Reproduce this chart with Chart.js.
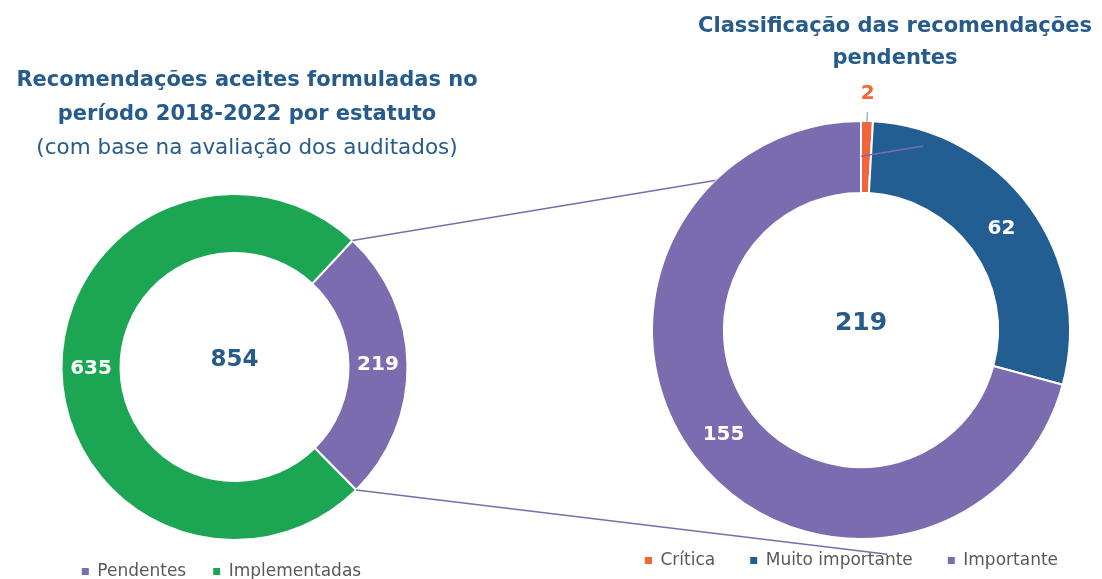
<!DOCTYPE html>
<html>
<head>
<meta charset="utf-8">
<script src="https://cdn.jsdelivr.net/npm/chart.js@4.4.1/dist/chart.umd.min.js"></script>
<style>
html, body { margin: 0; padding: 0; background: #fff; overflow: hidden; }
#wrap { position: relative; width: 1102px; height: 579px; overflow: hidden; }
canvas { position: absolute; left: 0; top: 0; }
#right { z-index: 2; }
</style>
</head>
<body>
<div id="wrap">
  <canvas id="left" width="1102" height="590"></canvas>
  <canvas id="right" width="1200" height="579"></canvas>
</div>
<script>
const leftLabels = ['Pendentes', 'Implementadas'];
const leftValues = [219, 635];
const rightLabels = ['Crítica', 'Muito importante', 'Importante'];
const rightValues = [2, 62, 155];

const leftColors = ['#7b6cb0', '#1ca653'];
const rightColors = ['#f26538', '#235e92', '#7b6cb0'];

const leftTitle = ['Recomendações aceites formuladas no', 'período 2018-2022 por estatuto'];
const leftSubtitle = '(com base na avaliação dos auditados)';
const rightTitle = ['Classificação das recomendações', 'pendentes'];

const titleBlue = '#265b8b';
Chart.defaults.font.family = '"DejaVu Sans", sans-serif';
Chart.defaults.color = '#595959';

// legend squares without the white slice border
const squareLabels = chart =>
  Chart.overrides.doughnut.plugins.legend.labels.generateLabels(chart)
    .map(l => Object.assign(l, { lineWidth: 0 }));

// move title / legend blocks sideways after layout
const nudge = {
  id: 'nudge',
  afterLayout(chart, args, opts) {
    chart.boxes.forEach(b => {
      const dx = opts[b.position] || 0;
      b.left += dx;
      b.right += dx;
    });
  }
};

// values on the ring, total in the middle
const ringText = {
  id: 'ringText',
  afterDatasetsDraw(chart, args, opts) {
    const ctx = chart.ctx;
    const meta = chart.getDatasetMeta(0);
    const vals = chart.data.datasets[0].data;
    const outside = opts.outside || [];
    ctx.save();
    ctx.textAlign = 'center';
    ctx.textBaseline = 'middle';
    ctx.font = 'bold 20px "DejaVu Sans"';
    meta.data.forEach((arc, i) => {
      if (outside.includes(i)) {
        const a = (arc.startAngle + arc.endAngle) / 2;
        const R = arc.outerRadius;
        ctx.strokeStyle = '#8c8c8c';
        ctx.lineWidth = 1;
        ctx.beginPath();
        ctx.moveTo(arc.x + (R - 3) * Math.cos(a), arc.y + (R - 3) * Math.sin(a));
        ctx.lineTo(arc.x + (R + 9) * Math.cos(a), arc.y + (R + 9) * Math.sin(a));
        ctx.stroke();
        ctx.fillStyle = arc.options.backgroundColor;
        ctx.fillText(vals[i], arc.x + (R + 27) * Math.cos(a), arc.y + (R + 27) * Math.sin(a));
      } else {
        const p = arc.tooltipPosition();
        ctx.fillStyle = '#fff';
        ctx.fillText(vals[i], p.x, p.y);
      }
    });
    const total = vals.reduce((s, v) => s + v, 0);
    const c = meta.data[0];
    ctx.font = 'bold ' + opts.totalSize + 'px "DejaVu Sans"';
    ctx.fillStyle = titleBlue;
    ctx.fillText(total, c.x, c.y - 7);
    ctx.restore();
  }
};

const leftChart = new Chart(document.getElementById('left'), {
  type: 'doughnut',
  data: {
    labels: leftLabels,
    datasets: [{
      data: leftValues,
      backgroundColor: leftColors,
      borderColor: '#fff',
      borderWidth: 2,
      hoverOffset: 0
    }]
  },
  options: {
    responsive: false,
    animation: false,
    events: [],
    rotation: 43,
    radius: 173,
    cutout: '65.9%',
    layout: { padding: { left: 0, right: 633, top: 0, bottom: 0 } },
    plugins: {
      title: {
        display: true, text: leftTitle, color: titleBlue,
        font: { size: 21, weight: 'bold', lineHeight: 1.6 },
        padding: { top: 64, bottom: 0 }
      },
      subtitle: {
        display: true, text: leftSubtitle, color: titleBlue,
        font: { size: 21.5, weight: 'normal', lineHeight: 1.5628 },
        padding: { top: 0, bottom: 33.2 }
      },
      legend: {
        position: 'bottom',
        labels: {
          usePointStyle: true, pointStyle: 'rect', boxWidth: 7, boxHeight: 7,
          padding: 27, font: { size: 17 }, color: '#595959',
          generateLabels: squareLabels
        }
      },
      tooltip: { enabled: false },
      nudge: { top: 12.5, bottom: -13 },
      ringText: { totalSize: 23 }
    }
  },
  plugins: [nudge, ringText]
});

// lines linking the "Pendentes" slice to the right ring
const connectors = {
  id: 'connectors',
  afterDatasetsDraw(chart) {
    const ctx = chart.ctx;
    const src = leftChart.getDatasetMeta(0).data[0];
    const arcs = chart.getDatasetMeta(0).data;
    const hide = arcs[2];
    const R = hide.outerRadius;
    const targets = [
      { from: src.startAngle, angle: -71.3, k: 0.93 },
      { from: src.endAngle, angle: 83.3, k: 1.08 }
    ];
    ctx.save();
    ctx.beginPath();
    ctx.rect(0, 0, chart.width, chart.height);
    ctx.moveTo(hide.x + R * Math.cos(hide.startAngle), hide.y + R * Math.sin(hide.startAngle));
    ctx.arc(hide.x, hide.y, R, hide.startAngle, hide.endAngle);
    ctx.arc(hide.x, hide.y, hide.innerRadius, hide.endAngle, hide.startAngle, true);
    ctx.closePath();
    ctx.clip('evenodd');
    ctx.strokeStyle = '#7b6cb0';
    ctx.lineWidth = 1.5;
    targets.forEach(t => {
      const a = t.angle * Math.PI / 180;
      ctx.beginPath();
      ctx.moveTo(src.x + src.outerRadius * Math.cos(t.from), src.y + src.outerRadius * Math.sin(t.from));
      ctx.lineTo(hide.x + R * t.k * Math.cos(a), hide.y + R * t.k * Math.sin(a));
      ctx.stroke();
    });
    ctx.restore();
  }
};

const rightChart = new Chart(document.getElementById('right'), {
  type: 'doughnut',
  data: {
    labels: rightLabels,
    datasets: [{
      data: rightValues,
      backgroundColor: rightColors,
      borderColor: '#fff',
      borderWidth: 2,
      hoverOffset: 0
    }]
  },
  options: {
    responsive: false,
    animation: false,
    events: [],
    rotation: 0,
    radius: 209,
    cutout: '65.6%',
    layout: { padding: { left: 522, right: 0, top: 0, bottom: 0 } },
    plugins: {
      title: {
        display: true, text: rightTitle, color: titleBlue,
        font: { size: 21, weight: 'bold', lineHeight: 1.5 },
        padding: { top: 11.25, bottom: 68.75 }
      },
      legend: {
        position: 'bottom',
        labels: {
          usePointStyle: true, pointStyle: 'rect', boxWidth: 7, boxHeight: 7,
          padding: 35, font: { size: 17 }, color: '#595959',
          generateLabels: squareLabels
        }
      },
      tooltip: { enabled: false },
      nudge: { top: 34, bottom: -9.5 },
      ringText: { totalSize: 25, outside: [0] }
    }
  },
  plugins: [nudge, connectors, ringText]
});
</script>
</body>
</html>
